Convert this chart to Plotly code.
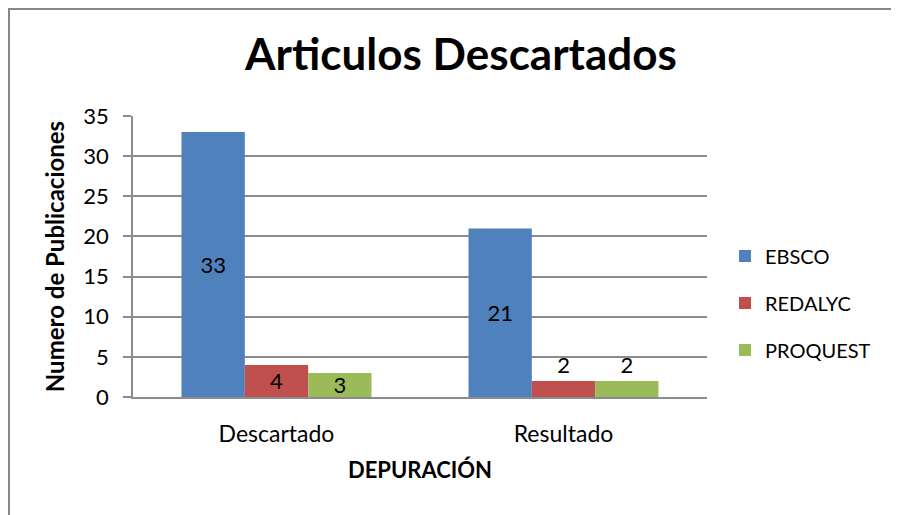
import plotly.graph_objects as go

categories = ["Descartado", "Resultado"]
series_names = ["EBSCO", "REDALYC", "PROQUEST"]
ebsco = [33, 21]
redalyc = [4, 2]
proquest = [3, 2]
colors = ["#4F81BD", "#C0504D", "#9BBB59"]

FONT = "Lato"
OFF = 8  # page body margin
fig = go.Figure()
for i, (name, vals) in enumerate(zip(series_names, [ebsco, redalyc, proquest])):
    fig.add_trace(go.Bar(
        x=categories, y=vals, name=name,
        marker=dict(color=colors[i], line=dict(width=0)),
        text=[str(v) for v in vals],
        textposition="auto",
        insidetextanchor="middle",
        constraintext="none",
        textangle=0,
        textfont=dict(family=FONT, size=22, color="black"),
        legendgroup=name,
    ))

W, H = 899 - OFF, 515 - OFF
L = 133 - OFF
T = 116 - OFF
R = W - (707 - OFF)
B = H - (397 - OFF)
pw, ph = W - L - R, H - T - B

fig.update_layout(
    width=W, height=H,
    margin=dict(l=L, r=R, t=T, b=B, autoexpand=False),
    paper_bgcolor="white", plot_bgcolor="white",
    font=dict(family=FONT, size=22, color="black"),
    barmode="group", bargap=0.338, bargroupgap=0,
    title=dict(text="<b>Articulos Descartados</b>", x=(461-OFF)/W, xanchor="center",
               y=1-(55-OFF)/H, yanchor="middle", yref="container",
               font=dict(family=FONT, size=44, color="black")),
    legend=dict(x=(725-OFF-L)/pw, xanchor="left", y=(397-303)/ph, yanchor="middle",
                font=dict(family=FONT, size=20), traceorder="grouped",
                tracegroupgap=18, bgcolor="rgba(0,0,0,0)"),
    showlegend=True,
)
fig.update_yaxes(range=[0, 35], dtick=5, showgrid=True, gridcolor="#8C8C8C", gridwidth=1.5,
                 showline=True, linecolor="#8C8C8C", linewidth=1.5,
                 ticks="outside", ticklen=8, tickcolor="#8C8C8C", tickwidth=1.5,
                 ticklabelstandoff=10, zeroline=False,
                 tickfont=dict(family=FONT, size=22),
                 title=dict(text="<b>Numero de Publicaciones</b>", standoff=12,
                            font=dict(family=FONT, size=24)))
fig.update_xaxes(showline=True, linecolor="#8C8C8C", linewidth=1.5, showgrid=False,
                 ticks="", ticklabelstandoff=16,
                 tickfont=dict(family=FONT, size=23),
                 title=dict(text="<b>DEPURACIÓN</b>", standoff=16,
                            font=dict(family=FONT, size=22)))

# outer chart border
fig.add_shape(type="rect", xref="paper", yref="paper",
              x0=(1-L)/pw, x1=(W+20-L)/pw, y0=(397-OFF-H-20)/ph, y1=(397-OFF-1)/ph,
              line=dict(color="#868686", width=2), fillcolor="rgba(0,0,0,0)", layer="below")

fig.write_html("out.html")
